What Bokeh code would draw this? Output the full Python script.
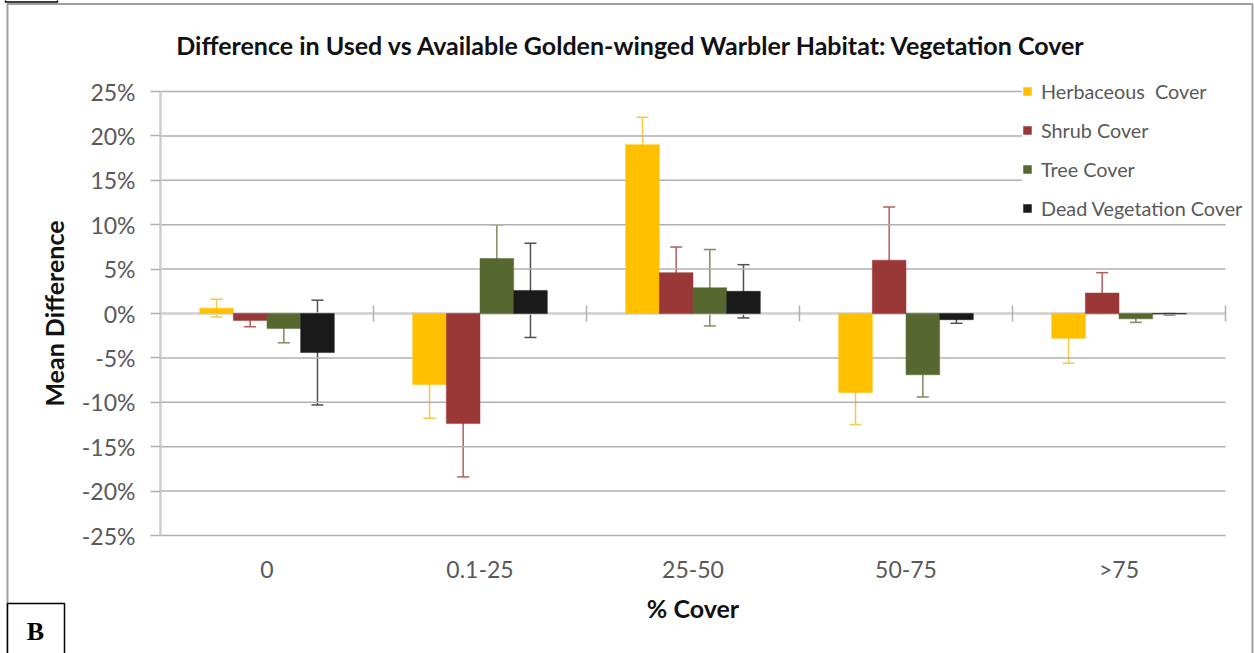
import numpy as np
from bokeh.plotting import figure
from bokeh.models import (ColumnDataSource, Whisker, TeeHead, Legend, LegendItem, Label,
                          BoxAnnotation, FixedTicker, PrintfTickFormatter, Range1d)
from bokeh.embed import file_html
from bokeh.resources import INLINE

# ---------------- data ----------------
categories = ["0", "0.1-25", "25-50", "50-75", ">75"]
series_names = ["Herbaceous  Cover", "Shrub Cover", "Tree Cover", "Dead Vegetation Cover"]
herb = [0.6, -8.0, 19.0, -8.9, -2.8]
herb_err = [1.0, 3.8, 3.1, 3.6, 2.8]
shrub = [-0.8, -12.4, 4.6, 6.0, 2.3]
shrub_err = [0.7, 6.0, 2.9, 6.0, 2.3]
tree = [-1.7, 6.2, 2.9, -6.9, -0.6]
tree_err = [1.6, 3.8, 4.3, 2.5, 0.4]
dead = [-4.4, 2.6, 2.5, -0.7, -0.05]
dead_err = [5.9, 5.3, 3.0, 0.4, 0.1]
y_ticks = [-25, -20, -15, -10, -5, 0, 5, 10, 15, 20, 25]

title_text = "Difference in Used vs Available Golden-winged Warbler Habitat: Vegetation Cover"
x_title = "% Cover"
y_title = "Mean Difference"
panel_letter = "B"

# ---------------- layout / style ----------------
W, H = 1254, 653
PL, PR, PT, PB = 160, 1225, 91, 535          # plot-area edges in pixels
bar_colors = ["#FFC000", "#9A3838", "#566830", "#1A1A1A"]
err_colors = ["#F7C748", "#B35E5C", "#7F8C60", "#505050"]
GRID = "#B0B0B0"
FONT = "Lato"
BAR_W = 0.158
offsets = [-1.5 * BAR_W, -0.5 * BAR_W, 0.5 * BAR_W, 1.5 * BAR_W]

n = len(categories)
x_lo, x_hi = -0.5, n - 0.5
y_lo, y_hi = y_ticks[0], y_ticks[-1]
sx = (PR - PL) / (x_hi - x_lo)
sy = (PB - PT) / (y_hi - y_lo)
x_range = Range1d(x_lo - PL / sx, x_hi + (W - PR) / sx)
y_range = Range1d(y_lo - (H - PB) / sy, y_hi + PT / sy)

p = figure(width=W, height=H, output_backend="svg", toolbar_location=None, title=None,
           x_range=x_range, y_range=y_range,
           min_border_left=0, min_border_right=0, min_border_top=0, min_border_bottom=0)
p.outline_line_color = None
p.background_fill_color = "white"
p.border_fill_color = "white"
p.xgrid.visible = False
p.ygrid.visible = False

# gridlines (limited to the plot area)
p.segment(x0=[x_lo] * len(y_ticks), x1=[x_hi] * len(y_ticks), y0=y_ticks, y1=y_ticks,
          line_color=GRID, line_width=1.5)

# y axis
ya = p.yaxis[0]
ya.fixed_location = x_lo
ya.bounds = (y_lo, y_hi)
ya.ticker = FixedTicker(ticks=y_ticks)
ya.formatter = PrintfTickFormatter(format="%d%%")
ya.axis_line_color = "#CFCFCF"
ya.axis_line_width = 2.5
ya.major_tick_line_color = GRID
ya.major_tick_line_width = 1.5
ya.major_tick_out = 10
ya.major_tick_in = 0
ya.minor_tick_line_color = None
ya.major_label_standoff = 15
ya.major_label_text_font = FONT
ya.major_label_text_font_size = "23px"
ya.major_label_text_color = "#595959"
ya.axis_label = y_title
ya.axis_label_text_font = FONT
ya.axis_label_text_font_style = "bold"
ya.axis_label_text_font_size = "25px"
ya.axis_label_text_color = "#111111"
ya.axis_label_standoff = 10

# x axis
xa = p.xaxis[0]
xa.fixed_location = y_lo
xa.bounds = (x_lo, x_hi)
xa.ticker = FixedTicker(ticks=list(range(n)))
xa.major_label_overrides = {i: c for i, c in enumerate(categories)}
xa.axis_line_color = None
xa.major_tick_line_color = None
xa.major_tick_out = 0
xa.major_tick_in = 0
xa.minor_tick_line_color = None
xa.major_label_standoff = 19
xa.major_label_text_font = FONT
xa.major_label_text_font_size = "23px"
xa.major_label_text_color = "#595959"
xa.axis_label = x_title
xa.axis_label_text_font = FONT
xa.axis_label_text_font_style = "bold"
xa.axis_label_text_font_size = "25px"
xa.axis_label_text_color = "#111111"
xa.axis_label_standoff = 7

# zero (category) axis line with cross ticks at category boundaries
p.segment(x0=[x_lo], x1=[x_hi], y0=[0], y1=[0], line_color="#D2D2D2", line_width=2.5)
bounds = [i + 0.5 for i in range(n)]
p.scatter(x=bounds, y=[0] * len(bounds), marker="dash", angle=np.pi / 2, size=16,
          line_color=GRID, line_width=1.5)

# bars + error bars
series = [(herb, herb_err), (shrub, shrub_err), (tree, tree_err), (dead, dead_err)]
items = []
xs_base = np.arange(n)
for k, ((vals, errs), name) in enumerate(zip(series, series_names)):
    xs = xs_base + offsets[k]
    v = np.array(vals, dtype=float)
    e = np.array(errs, dtype=float)
    src = ColumnDataSource(dict(x=xs, top=v, upper=v + e, lower=v - e))
    wk = Whisker(base="x", upper="upper", lower="lower", source=src, dimension="height",
                 line_color=err_colors[k], line_width=1.5, level="underlay",
                 upper_head=TeeHead(size=12, line_color=err_colors[k], line_width=1.5),
                 lower_head=TeeHead(size=12, line_color=err_colors[k], line_width=1.5))
    p.add_layout(wk)
    r = p.vbar(x="x", top="top", bottom=0, width=BAR_W, source=src,
               fill_color=bar_colors[k], line_color=bar_colors[k], line_width=0.5)
    items.append(LegendItem(label=name, renderers=[r]))

legend = Legend(items=items, location=(1022, H - 220), orientation="vertical",
                padding=12, margin=0, spacing=15, label_height=24,
                glyph_width=10, glyph_height=10, label_standoff=9,
                label_text_font=FONT, label_text_font_size="19.8px", label_text_color="#595959",
                label_text_baseline="middle",
                border_line_color=None, background_fill_color="white", background_fill_alpha=1.0)
p.add_layout(legend, "center")

# title
p.add_layout(Label(x=631, y=H - 44, x_units="screen", y_units="screen", text=title_text,
                   text_align="center", text_baseline="middle", text_font=FONT,
                   text_font_style="bold", text_font_size="25px", text_color="#111111"))

# outer chart border + remnant of panel box above
p.add_layout(BoxAnnotation(left=7, right=1252, top=H - 3.5, bottom=-20,
                           left_units="screen", right_units="screen",
                           top_units="screen", bottom_units="screen",
                           fill_alpha=0, line_color="#A0A0A0", line_alpha=1.0, line_width=2,
                           level="overlay"))
p.add_layout(BoxAnnotation(left=5, right=57, top=H + 10, bottom=H - 1.5,
                           left_units="screen", right_units="screen",
                           top_units="screen", bottom_units="screen",
                           fill_alpha=0, line_color="black", line_alpha=1.0, line_width=1.5,
                           level="overlay"))

# panel letter box
p.add_layout(BoxAnnotation(left=7, right=64, top=H - 603, bottom=-20,
                           left_units="screen", right_units="screen",
                           top_units="screen", bottom_units="screen",
                           fill_color="white", fill_alpha=1.0, line_color="black",
                           line_alpha=1.0, line_width=1.5, level="overlay"))
p.add_layout(Label(x=35, y=H - 631, x_units="screen", y_units="screen", text=panel_letter,
                   text_align="center", text_baseline="middle",
                   text_font="Liberation Serif", text_font_style="bold",
                   text_font_size="26px", text_color="black", level="overlay"))

open("out.html", "w").write(file_html(p, INLINE))
